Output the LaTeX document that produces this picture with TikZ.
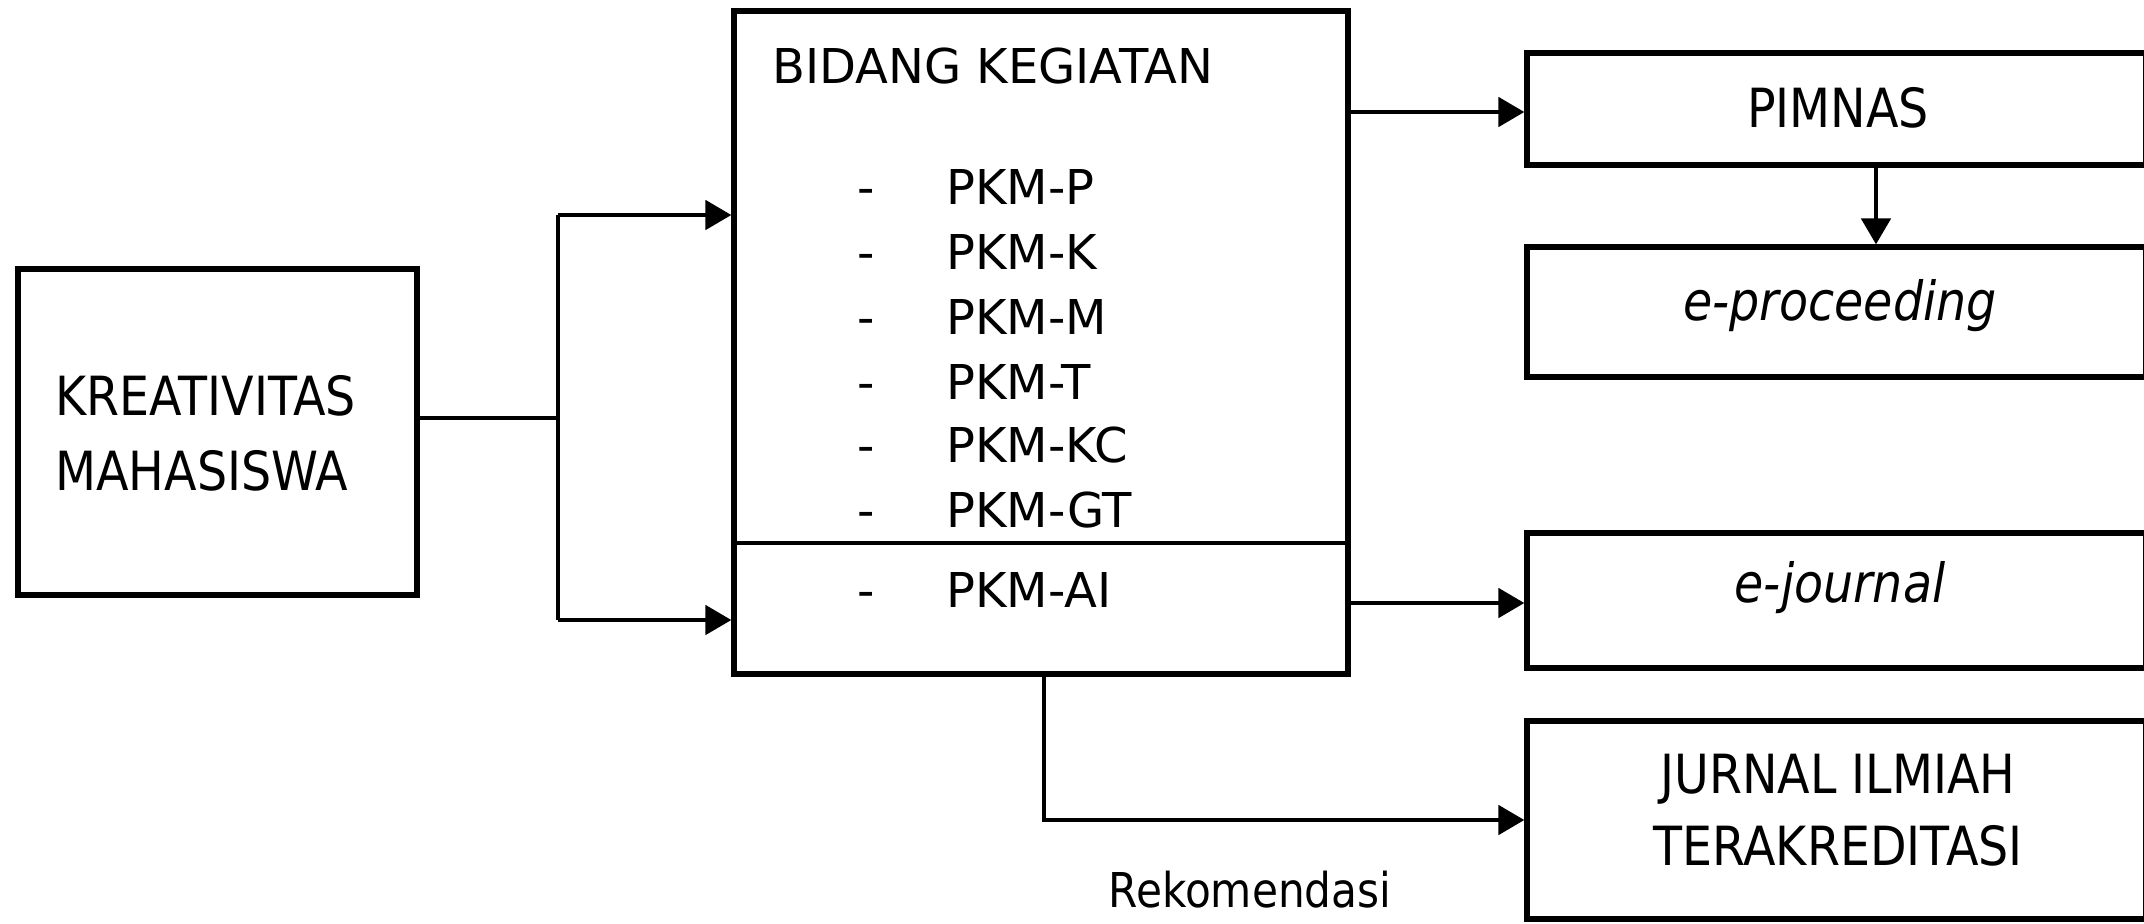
\documentclass[tikz,border=0pt]{standalone}
\usepackage{fontspec}
\setmainfont{DejaVu Sans}
\newfontfamily\cond[FakeStretch=0.88]{DejaVu Sans}
\usetikzlibrary{arrows.meta}
\begin{document}
\begin{tikzpicture}[x=0.5pt,y=-0.5pt,
  box/.style={draw,line width=2.6pt,inner sep=0pt},
  conn/.style={line width=2.4pt},
  arr/.style={line width=2.4pt,-{Triangle[length=13pt,width=14.5pt]}},
  midtxt/.style={inner sep=0pt,anchor=base west,font=\fontsize{24}{28}\selectfont},
  rtxt/.style={inner sep=0pt,anchor=base,font=\cond\fontsize{27}{32}\selectfont},
  ltxt/.style={inner sep=0pt,anchor=base west,font=\cond\fontsize{27}{32}\selectfont}]
\useasboundingbox (0,0) rectangle (2144,923);
\clip (0,0) rectangle (2144,923);
\fill[white] (0,0) rectangle (2144,923);
% boxes
\node[box,minimum width=199.5pt,minimum height=163pt] (kre) at (217.5,432) {};
\node[box,minimum width=307pt,minimum height=331.5pt] (mid) at (1041,342.5) {};
\node[box,minimum width=309.5pt,minimum height=56pt] (pim) at (1836.5,109) {};
\node[box,minimum width=309.5pt,minimum height=65pt] (ep) at (1836.5,312) {};
\node[box,minimum width=309.5pt,minimum height=67.5pt] (ej) at (1836.5,600.5) {};
\node[box,minimum width=309.5pt,minimum height=99pt] (jur) at (1836.5,820) {};
% divider in middle box
\coordinate (dv) at (0,543);
\draw[line width=1.6pt] (mid.west |- dv) -- (mid.east |- dv);
% texts
\node[ltxt] (k1) at (55,415) {KREATIVITAS};
\node[ltxt] (k2) at (55,490) {MAHASISWA};
\node[midtxt] (bk) at (772,83) {BIDANG KEGIATAN};
\foreach \n/\y/\t in {p1/204/PKM-P,p2/269/PKM-K,p3/334/PKM-M,p4/399/PKM-T,p5/462/PKM-KC,p6/527/PKM-GT,p7/607/PKM-AI}{
  \node[midtxt] (d\n) at (857,\y) {-};
  \node[midtxt] (\n) at (946,\y) {\t};
}
\node[rtxt] (tpim) at (1838,127) {PIMNAS};
\node[rtxt] (tep) at (1840,320) {\itshape e-proceeding};
\node[rtxt] (tej) at (1840,602) {\itshape e-journal};
\node[rtxt] (tj1) at (1838,793) {JURNAL ILMIAH};
\node[rtxt] (tj2) at (1838,865) {TERAKREDITASI};
\node[inner sep=0pt,anchor=base,font=\cond\fontsize{24}{28}\selectfont] (rek) at (1250,907) {Rekomendasi};
% connectors
\coordinate (j) at (558,418);
\coordinate (ja) at (558,215);
\coordinate (jb) at (558,620);
\draw[conn] (kre.east |- j) -- (j);
\draw[conn] (ja) -- (jb);
\draw[arr] (ja) -- (mid.west |- ja);
\draw[arr] (jb) -- (mid.west |- jb);
\coordinate (ra) at (0,112);
\coordinate (rb) at (0,603);
\draw[arr] (mid.east |- ra) -- (pim.west |- ra);
\draw[arr] (mid.east |- rb) -- (ej.west |- rb);
\coordinate (dn) at (1876,0);
\draw[arr] (pim.south -| dn) -- (ep.north -| dn);
\coordinate (bt) at (1044,0);
\draw[arr] (mid.south -| bt) |- (jur.west);
\end{tikzpicture}
\end{document}
